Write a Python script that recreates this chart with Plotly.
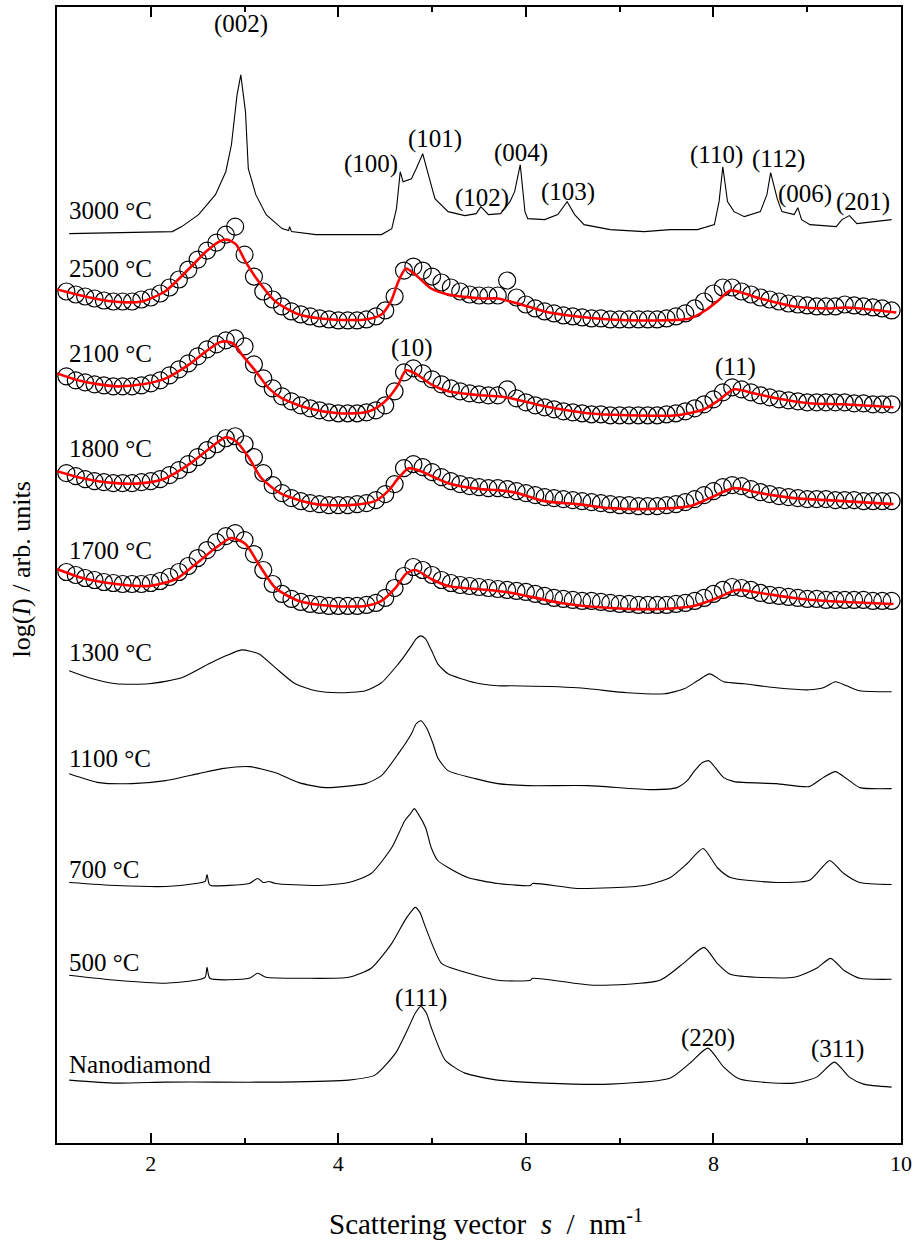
import plotly.graph_objects as go

# ---------------- data (s in nm^-1, log(I) in arbitrary offset units) ----------------
s_grid = [1.1, 1.2, 1.3, 1.4, 1.5, 1.6, 1.7, 1.8, 1.9, 2.0,
          2.1, 2.2, 2.3, 2.4, 2.5, 2.6, 2.7, 2.8, 2.9, 3.0,
          3.1, 3.2, 3.3, 3.4, 3.5, 3.6, 3.7, 3.8, 3.9, 4.0,
          4.1, 4.2, 4.3, 4.4, 4.5, 4.6, 4.7, 4.8, 4.9, 5.0,
          5.1, 5.2, 5.3, 5.4, 5.5, 5.6, 5.7, 5.8, 5.9, 6.0,
          6.1, 6.2, 6.3, 6.4, 6.5, 6.6, 6.7, 6.8, 6.9, 7.0,
          7.1, 7.2, 7.3, 7.4, 7.5, 7.6, 7.7, 7.8, 7.9, 8.0,
          8.1, 8.2, 8.3, 8.4, 8.5, 8.6, 8.7, 8.8, 8.9, 9.0,
          9.1, 9.2, 9.3, 9.4, 9.5, 9.6, 9.7, 9.8, 9.9]

circ_2500 = [853, 850, 848, 846, 844, 843, 843, 843, 845, 847,
             851, 857, 865, 875, 885, 894, 902, 910, 918, 890,
             868, 853, 845, 838, 833, 830, 828, 826, 825, 824,
             824, 824, 825, 828, 834, 848, 874, 878, 874, 868,
             862, 857, 853, 850, 849, 849, 849, 864, 847, 840,
             836, 833, 831, 829, 828, 827, 826, 826, 825, 825,
             825, 825, 825, 825, 826, 828, 831, 836, 843, 851,
             857, 857, 853, 850, 847, 845, 843, 841, 840, 839,
             838, 838, 838, 840, 839, 838, 837, 836, 834]
circ_2100 = [768, 764, 762, 760, 759, 758, 758, 758, 759, 761,
             764, 769, 775, 781, 788, 795, 800, 804, 806, 798,
             780, 766, 756, 748, 743, 739, 736, 734, 732, 731,
             731, 731, 732, 734, 739, 753, 772, 776, 771, 765,
             760, 756, 753, 751, 750, 749, 749, 755, 746, 742,
             739, 737, 735, 733, 732, 731, 730, 730, 729, 729,
             729, 729, 729, 729, 730, 731, 733, 736, 740, 745,
             752, 757, 755, 752, 749, 747, 745, 744, 743, 742,
             742, 742, 742, 742, 741, 741, 740, 740, 740]
circ_1800 = [671, 668, 665, 663, 662, 661, 661, 661, 662, 663,
             665, 669, 674, 680, 687, 694, 700, 706, 708, 700,
             687, 671, 659, 651, 646, 643, 641, 640, 639, 639,
             639, 640, 641, 644, 650, 660, 676, 680, 677, 672,
             667, 663, 660, 658, 657, 656, 656, 655, 653, 651,
             649, 647, 646, 645, 644, 643, 642, 641, 640, 639,
             639, 638, 638, 638, 639, 640, 642, 645, 649, 653,
             657, 659, 658, 655, 652, 650, 648, 647, 646, 645,
             645, 645, 644, 644, 644, 643, 643, 643, 643]
circ_1700 = [572, 569, 566, 564, 562, 561, 560, 560, 560, 561,
             563, 567, 572, 578, 586, 594, 602, 608, 611, 604,
             590, 574, 560, 550, 545, 542, 540, 539, 538, 538,
             538, 538, 539, 541, 546, 556, 568, 577, 574, 569,
             564, 561, 559, 558, 557, 556, 555, 554, 553, 552,
             550, 548, 546, 545, 544, 543, 543, 542, 541, 540,
             540, 539, 539, 539, 539, 540, 541, 543, 546, 550,
             554, 557, 556, 554, 551, 549, 548, 547, 546, 545,
             545, 544, 544, 544, 544, 544, 543, 543, 543]

fit_2500_s = [1.0, 1.3, 1.6, 1.9, 2.15, 2.41, 2.59, 2.73, 2.81, 2.91, 3.01, 3.15, 3.33, 3.58,
              3.93, 4.29, 4.46, 4.56, 4.64, 4.72, 4.82, 4.99, 5.17, 5.52, 5.70, 5.95, 6.20,
              6.55, 6.90, 7.26, 7.75, 7.93, 8.04, 8.18, 8.33, 8.50, 8.86, 9.21, 9.42, 9.67, 9.95]
fit_2500_y = [855, 848, 843, 843, 853, 876, 893, 903, 905, 900, 883, 863, 843, 830,
              825, 825, 830, 843, 863, 876, 870, 856, 850, 846, 846, 840, 833,
              828, 825, 824, 826, 835, 843, 854, 851, 846, 838, 836, 837, 835, 832]
fit_2100_s = [1.0, 1.27, 1.63, 1.91, 2.16, 2.41, 2.59, 2.73, 2.80, 2.89, 2.97, 3.12, 3.26,
              3.40, 3.68, 4.00, 4.29, 4.43, 4.53, 4.64, 4.72, 4.82, 4.99, 5.17, 5.52, 5.70,
              5.84, 6.20, 6.66, 7.08, 7.61, 7.90, 8.04, 8.22, 8.43, 8.67, 9.02, 9.39, 9.92]
fit_2100_y = [771, 763, 758, 760, 766, 780, 793, 802, 803, 800, 790, 773, 756,
              746, 736, 731, 732, 738, 746, 760, 774, 771, 760, 753, 749, 748,
              746, 738, 731, 729, 729, 735, 743, 755, 751, 746, 741, 740, 737]
fit_1800_s = [1.0, 1.27, 1.63, 1.91, 2.16, 2.41, 2.59, 2.80, 2.91, 3.05, 3.18, 3.40, 3.76,
              4.11, 4.39, 4.53, 4.64, 4.75, 4.88, 5.17, 5.52, 5.70, 5.91, 6.20, 6.55, 6.90,
              7.26, 7.75, 7.96, 8.22, 8.50, 8.86, 9.21, 9.92]
fit_1800_y = [673, 666, 661, 661, 666, 680, 693, 707, 703, 686, 666, 650, 640,
              639, 643, 653, 666, 676, 673, 661, 655, 654, 651, 643, 640, 636,
              635, 638, 646, 656, 651, 646, 644, 640]
fit_1700_s = [1.0, 1.27, 1.63, 1.98, 2.27, 2.48, 2.69, 2.86, 3.01, 3.15, 3.33, 3.58, 3.93,
              4.29, 4.46, 4.61, 4.72, 4.82, 4.99, 5.17, 5.70, 5.91, 6.37, 6.90, 7.43, 7.79,
              8.04, 8.25, 8.50, 8.86, 9.21, 9.92]
fit_1700_y = [575, 566, 560, 558, 565, 580, 596, 606, 600, 580, 556, 543, 538,
              538, 543, 556, 570, 574, 565, 558, 553, 550, 541, 536, 535, 538,
              546, 554, 551, 546, 543, 540]

d3000_s = [1.13, 1.66, 1.98, 2.23, 2.33, 2.51, 2.69, 2.80, 2.86, 2.92, 2.96, 3.01, 3.04, 3.12,
           3.23, 3.40, 3.47, 3.48, 3.50, 3.76, 4.46, 4.57, 4.62, 4.66, 4.69, 4.78, 4.83, 4.90,
           4.96, 5.03, 5.17, 5.35, 5.47, 5.52, 5.60, 5.73, 5.83, 5.88, 5.94, 5.99, 6.02, 6.20,
           6.34, 6.44, 6.52, 6.62, 6.90, 7.26, 7.54, 7.83, 8.01, 8.06, 8.10, 8.15, 8.22, 8.33,
           8.50, 8.57, 8.61, 8.68, 8.73, 8.86, 8.90, 8.94, 9.03, 9.31, 9.37, 9.45, 9.53, 9.90]
d3000_y = [911, 912, 912, 913, 918, 930, 950, 973, 1000, 1050, 1070, 1033, 976, 950,
           930, 916, 914, 918, 913, 910, 910, 916, 936, 973, 963, 966, 976, 991,
           970, 946, 933, 929, 931, 938, 930, 931, 943, 953, 980, 933, 926, 925,
           930, 943, 930, 920, 915, 913, 915, 915, 920, 943, 978, 943, 933, 928,
           933, 950, 972, 946, 933, 930, 937, 925, 920, 918, 925, 929, 921, 925]
d1300_s = [1.13, 1.34, 1.63, 1.98, 2.33, 2.62, 2.80, 2.97, 3.15, 3.33, 3.54, 3.76, 4.00, 4.29,
           4.46, 4.64, 4.69, 4.78, 4.83, 4.88, 4.93, 4.96, 5.01, 5.06, 5.17, 5.46, 5.70, 5.84,
           6.55, 7.08, 7.48, 7.69, 7.83, 7.96, 8.11, 8.33, 8.67, 9.02, 9.17, 9.30, 9.42, 9.56, 9.90]
d1300_y = [473, 466, 460, 460, 466, 480, 488, 494, 490, 476, 460, 453, 451, 453,
           461, 480, 486, 498, 505, 508, 505, 500, 490, 480, 470, 461, 458, 458,
           456, 451, 450, 455, 463, 470, 462, 460, 456, 454, 456, 462, 458, 453, 452]
d1100_s = [1.13, 1.45, 1.80, 2.16, 2.51, 2.76, 3.05, 3.33, 3.58, 3.86, 4.29, 4.46, 4.64, 4.78,
           4.83, 4.88, 4.94, 5.01, 5.06, 5.17, 5.46, 5.70, 6.02, 6.66, 7.33, 7.61, 7.72, 7.80,
           7.88, 7.95, 8.02, 8.11, 8.22, 8.67, 9.02, 9.17, 9.30, 9.42, 9.56, 9.90]
d1100_y = [370, 361, 360, 363, 370, 375, 377, 371, 361, 356, 360, 368, 390, 410,
           420, 423, 416, 400, 386, 373, 365, 360, 358, 358, 354, 356, 363, 373,
           381, 383, 376, 366, 362, 360, 357, 366, 372, 365, 356, 355]
d700_s = [1.13, 1.63, 2.16, 2.48, 2.58, 2.60, 2.62, 2.64, 3.05, 3.14, 3.20, 3.26, 3.33, 3.76,
          4.11, 4.35, 4.57, 4.71, 4.77, 4.81, 4.85, 4.93, 4.99, 5.06, 5.17, 5.38, 5.70, 6.05,
          6.07, 6.55, 7.26, 7.54, 7.72, 7.89, 8.04, 8.18, 8.67, 9.02, 9.13, 9.24, 9.39, 9.56, 9.90]
d700_y = [261, 258, 257, 260, 262, 269, 260, 258, 260, 265, 261, 262, 260, 258,
          261, 270, 296, 323, 330, 335, 330, 316, 296, 283, 276, 266, 260, 258,
          260, 255, 258, 266, 280, 295, 276, 266, 261, 263, 273, 283, 270, 261, 259]
d500_s = [1.13, 1.63, 2.16, 2.48, 2.58, 2.60, 2.63, 3.05, 3.14, 3.23, 3.65, 4.11, 4.35, 4.57,
          4.71, 4.77, 4.82, 4.87, 4.93, 5.10, 5.28, 5.70, 6.05, 6.07, 6.73, 7.43, 7.68, 7.90,
          8.04, 8.18, 8.86, 9.10, 9.25, 9.39, 9.56, 9.90]
d500_y = [168, 163, 160, 163, 166, 176, 165, 165, 170, 166, 165, 166, 175, 200,
          223, 231, 236, 231, 216, 180, 173, 163, 163, 165, 158, 163, 180, 196,
          180, 169, 166, 175, 185, 173, 165, 164]
dnd_s = [1.13, 1.63, 2.16, 2.69, 3.40, 4.11, 4.39, 4.61, 4.75, 4.82, 4.88, 4.94, 4.99, 5.14,
         5.35, 5.70, 6.20, 6.90, 7.54, 7.75, 7.94, 8.11, 8.28, 8.86, 9.10, 9.29, 9.45, 9.60, 9.90]
dnd_y = [63, 60, 61, 61, 61, 63, 68, 90, 116, 130, 137, 130, 116, 83,
         70, 63, 60, 59, 65, 80, 95, 76, 64, 60, 66, 81, 66, 59, 56]

row_labels = ["3000 °C", "2500 °C", "2100 °C", "1800 °C", "1700 °C",
              "1300 °C", "1100 °C", "700 °C", "500 °C", "Nanodiamond"]
row_label_y = [934, 876, 791, 696, 594, 491, 385, 274, 181, 79]

peak_labels = ["(002)", "(100)", "(101)", "(102)", "(004)", "(103)", "(110)", "(112)",
               "(006)", "(201)", "(10)", "(11)", "(111)", "(220)", "(311)"]
peak_label_s = [2.96, 4.35, 5.03, 5.53, 5.95, 6.45, 8.03, 8.69, 8.98, 9.59, 4.79, 8.23, 4.88, 7.94, 9.32]
peak_label_y = [1121, 981, 1006, 947, 992, 953, 990, 986, 951, 943, 796, 777, 145, 105, 94]

x_ticks = [2, 4, 6, 8, 10]
x_minor = [3, 5, 7, 9]

# ---------------- figure ----------------
FONT = "Liberation Serif"
fig = go.Figure()

thin = dict(color="black", width=1.1)
fig.add_trace(go.Scatter(x=d3000_s, y=d3000_y, mode="lines", line=thin))
for s, y in [(d1300_s, d1300_y), (d1100_s, d1100_y), (d700_s, d700_y),
             (d500_s, d500_y), (dnd_s, dnd_y)]:
    fig.add_trace(go.Scatter(x=s, y=y, mode="lines",
                             line=dict(color="black", width=1.1, shape="spline", smoothing=0.6)))

for circ in [circ_2500, circ_2100, circ_1800, circ_1700]:
    fig.add_trace(go.Scatter(x=s_grid, y=circ, mode="markers",
                             marker=dict(symbol="circle-open", size=17, color="black",
                                         line=dict(width=1.2))))
for s, y in [(fit_2500_s, fit_2500_y), (fit_2100_s, fit_2100_y),
             (fit_1800_s, fit_1800_y), (fit_1700_s, fit_1700_y)]:
    fig.add_trace(go.Scatter(x=s, y=y, mode="lines",
                             line=dict(color="#ff0000", width=2.6, shape="spline", smoothing=0.7)))

ann = []
for t, yy in zip(row_labels, row_label_y):
    ann.append(dict(x=1.11, y=yy, xref="x", yref="y", text=t, showarrow=False,
                    xanchor="left", yanchor="middle", font=dict(family=FONT, size=25, color="black")))
for t, xx, yy in zip(peak_labels, peak_label_s, peak_label_y):
    ann.append(dict(x=xx, y=yy, xref="x", yref="y", text=t, showarrow=False,
                    xanchor="center", yanchor="middle", font=dict(family=FONT, size=25, color="black")))
ann.append(dict(x=0.508, y=-0.0694, xref="paper", yref="paper",
                text="Scattering vector&nbsp;&nbsp;<i>s</i>&nbsp;&nbsp;/&nbsp;&nbsp;nm<sup>-1</sup>",
                showarrow=False, xanchor="center", yanchor="middle",
                font=dict(family=FONT, size=29, color="black")))
ann.append(dict(x=-0.0425, y=0.505, xref="paper", yref="paper",
                text="log(<i>I</i>)&nbsp;/&nbsp;arb.&nbsp;units", textangle=-90,
                showarrow=False, xanchor="center", yanchor="middle",
                font=dict(family=FONT, size=26, color="black")))

fig.update_layout(
    width=917, height=1241,
    margin=dict(l=57, r=13, t=5, b=98),
    paper_bgcolor="white", plot_bgcolor="white",
    showlegend=False,
    annotations=ann,
    xaxis=dict(range=[1, 10], tickvals=x_ticks, ticks="inside", ticklen=10, tickwidth=1.5,
               tickcolor="black", showline=True, linewidth=2, linecolor="black", mirror="ticks",
               showgrid=False, zeroline=False, ticklabelstandoff=0,
               tickfont=dict(family=FONT, size=22, color="black"),
               minor=dict(tickvals=x_minor, ticks="inside", ticklen=5, tickwidth=1.5,
                          tickcolor="black", showgrid=False)),
    yaxis=dict(range=[0, 1138], showticklabels=False, ticks="", showline=True, linewidth=2,
               linecolor="black", mirror=True, showgrid=False, zeroline=False),
)

fig.write_html("out.html", config={"displayModeBar": False},
               post_script="document.body.style.margin='0';document.body.style.overflow='hidden';")
